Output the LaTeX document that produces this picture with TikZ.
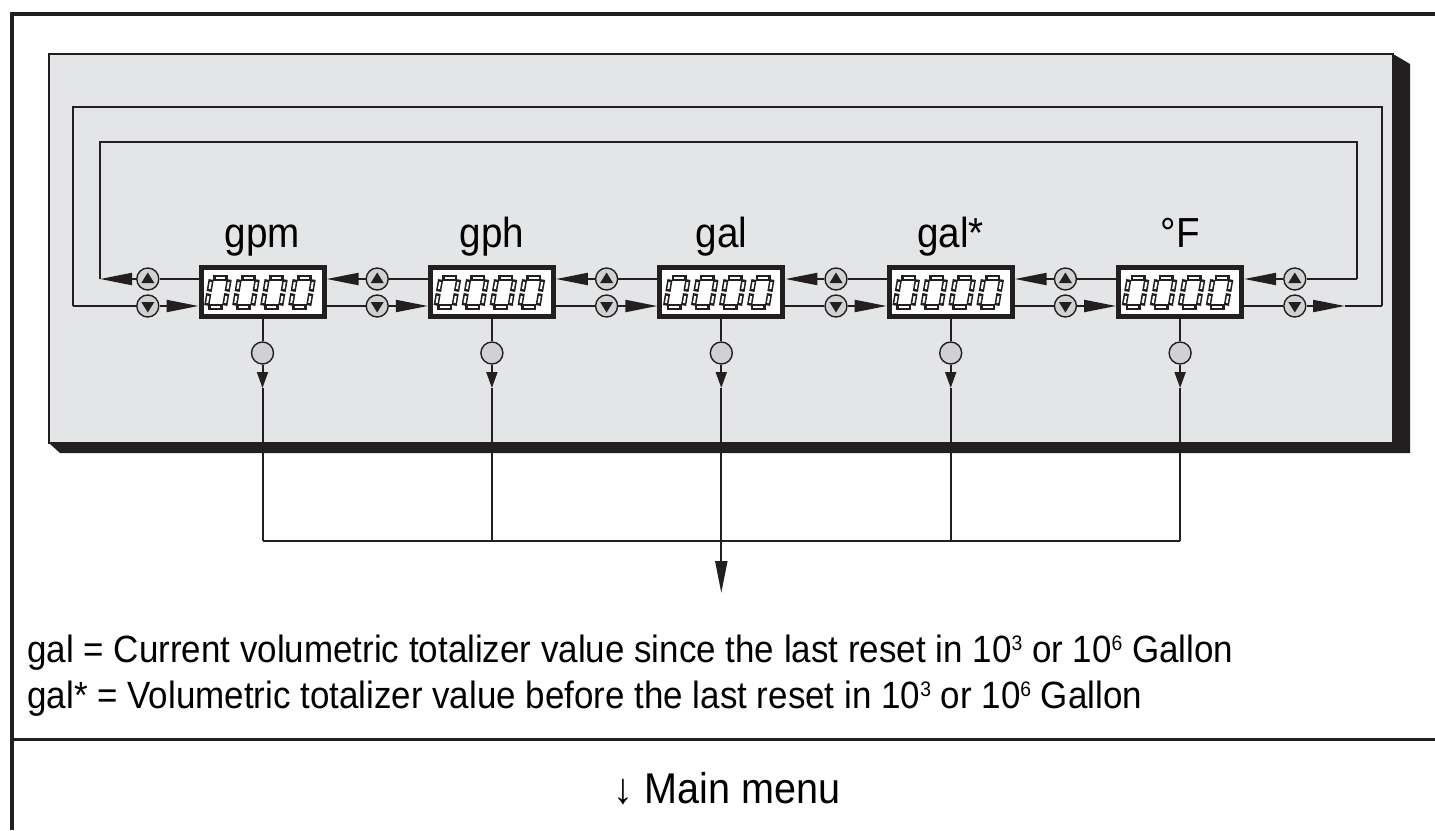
\documentclass[tikz,border=0pt]{standalone}
\usepackage{fontspec}
\setmainfont[FakeStretch=0.92]{Liberation Sans}
\usetikzlibrary{arrows.meta,calc}
\definecolor{panelgray}{RGB}{228,229,231}
\definecolor{keygray}{RGB}{208,209,211}
\definecolor{ink}{RGB}{35,31,32}
\newcommand{\powr}[1]{\raisebox{6pt}{\fontsize{10.5}{10.5}\selectfont #1}}
\tikzset{display/.style={
    draw=ink, fill=white,
    line width=2.5pt,
    minimum width=61.5pt, minimum height=24.5pt,
    inner sep=0pt},
  key/.style={
    draw=ink, fill=keygray, circle,
    line width=0.7pt,
    minimum size=11pt, inner sep=0pt},
  wire/.style={draw=ink, line width=1pt},
  flow/.style={wire, -{Triangle[length=16pt,width=6pt]}},
  drop/.style={wire, -{Triangle[length=8pt,width=5.5pt]}},
  unit/.style={font=\fontsize{21}{25}\selectfont, inner sep=0pt, anchor=base},
  note/.style={font=\fontsize{19}{23}\selectfont, inner sep=0pt, anchor=base west},
  uptri/.pic={\fill[ink] (-6.5,4) -- (6.5,4) -- (0,-6.5) -- cycle;},
  downtri/.pic={\fill[ink] (-6.5,-4) -- (6.5,-4) -- (0,6.5) -- cycle;},
  zero/.pic={
    \begin{scope}[xslant=0.17]
    \foreach \xa/\ya/\xb/\yb in {1.5/0/16.5/0,1.5/-29/16.5/-29,0/-1.5/0/-13.5,0/-15.5/0/-27.5,18/-1.5/18/-13.5,18/-15.5/18/-27.5}{
      \draw[ink, line width=2.6pt] (\xa,\ya) -- (\xb,\yb);
      \draw[white, line width=1pt, shorten <=1.3pt, shorten >=1.3pt] (\xa,\ya) -- (\xb,\yb);
    }
    \end{scope}}}

\begin{document}
\begin{tikzpicture}[x=0.5pt,y=-0.5pt]
\useasboundingbox (0,0) rectangle (1435,830);
\fill[white] (0,0) rectangle (1435,830);

\draw[ink, line width=2pt] (12,830) -- (12,14) -- (1435,14);
\draw[ink, line width=1.5pt] (12,739) -- (1435,739);

\fill[ink] (1393,54) -- (1410,64) -- (1410,453) -- (60,453) -- (49,443) -- cycle;
\draw[ink, fill=panelgray, line width=0.7pt] (49,54) rectangle (1393,443);

	\coordinate (innerL) at (100,279);
\coordinate (innerR) at (1357,279);
\coordinate (outerL) at (73,306);
\coordinate (outerR) at (1382,306);
\coordinate (endR) at (1345,306);
\coordinate (menu) at (721.3,593);

\foreach \i/\x/\lab in {1/262.5/gpm,2/491.9/gph,3/721.3/gal,4/950.7/gal*,5/1180.1/°F}{
	\node[display] (d\i) at (\x,292) {};
	\node[unit] (l\i) at (\x,247) {\lab};
	\node[key] (s\i) at (\x,353) {};
	\coordinate (t\i) at (\x,388);
	\coordinate (c\i) at (\x,541);
	\foreach \dx in {-56,-28,0,28}
		\pic at ($(d\i)+(\dx,15)$) {zero};
	\draw[wire] (d\i.south) -- (s\i.north);
	\draw[drop] (s\i) -- (t\i);
	\draw[wire] (t\i) -- (c\i);
}

\foreach \k/\x in {1/147.8,2/377.2,3/606.6,4/836,5/1065.4,6/1294.8}{
	\node[key] (u\k) at (\x,279) {};
	\pic at (u\k) {uptri};
	\node[key] (n\k) at (\x,306) {};
	\pic at (n\k) {downtri};
}

\foreach \i/\j in {2/1,3/2,4/3,5/4}{
	\draw[wire] (d\i.west |- u\i) -- (u\i);
	\draw[flow] (u\i) -- (d\j.east |- u\i);
	\draw[wire] (d\j.east |- n\i) -- (n\i);
	\draw[flow] (n\i) -- (d\i.west |- n\i);
}

\draw[wire] (d1.west |- u1) -- (u1);
\draw[flow] (u1) -- (innerL);
\draw[wire] (innerR) -- (u6);
\draw[flow] (u6) -- (d5.east |- u6);
\draw[wire] (outerL) -- (n1);
\draw[flow] (n1) -- (d1.west |- n1);
\draw[wire] (d5.east |- n6) -- (n6);
\draw[flow] (n6) -- (endR);
\draw[wire] (endR) -- (outerR);
\draw[wire] (innerL) -- ++(0,-137) -| (innerR);
\draw[wire] (outerL) -- ++(0,-199) -| (outerR);

\draw[wire] (c1) -- (c5);
\draw[flow] (c3) -- (menu);

\node[note] (note1) at (27,662) {gal = Current volumetric totalizer value since the last reset in 10\powr{3} or 10\powr{6} Gallon};
\node[note] (note2) at (27,708) {gal* = Volumetric totalizer value before the last reset in 10\powr{3} or 10\powr{6} Gallon};
\node[font=\fontsize{21.5}{25}\selectfont, inner sep=0pt, anchor=base] (mainmenu) at (727,803) {↓ Main menu};

\end{tikzpicture}
\end{document}
